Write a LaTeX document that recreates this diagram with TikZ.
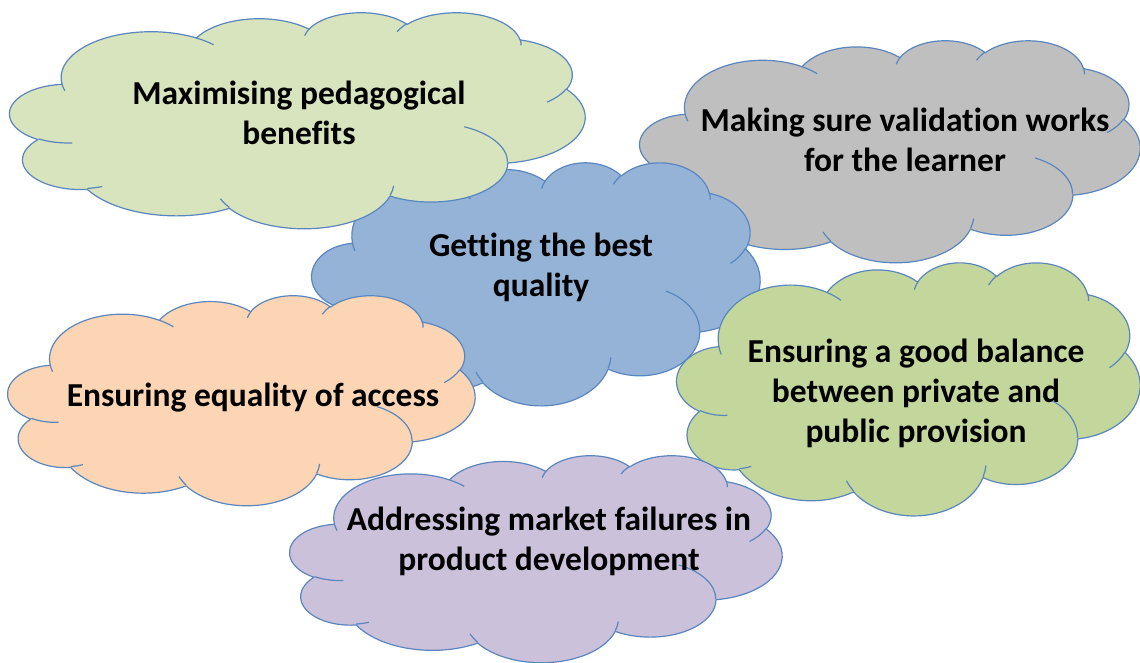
\documentclass[tikz,border=0pt]{standalone}
\usepackage{fontspec}
\setmainfont{Carlito}[Ligatures=NoCommon]
\definecolor{cloudblue}{HTML}{5A86C0}
\definecolor{cgreenA}{HTML}{D7E4BD}
\definecolor{cgray}{HTML}{BFBFBF}
\definecolor{cblue}{HTML}{95B3D7}
\definecolor{corange}{HTML}{FCD5B5}
\definecolor{cgreenB}{HTML}{C3D69B}
\definecolor{cpurple}{HTML}{CCC1DA}
\tikzset{
  cloudline/.style={draw=cloudblue, line width=1.2pt, line join=round},
  cloudtext/.style={font=\fontsize{33.5}{40}\selectfont\bfseries, align=center, text=black, inner sep=0pt}
}
% precompute parametric angles of the cloud arcs (DrawingML angles are visual)
\newcommand\clprep[5]{%
  \pgfmathsetmacro\clTmpS{atan2(#2*sin(#4),#3*cos(#4))}%
  \pgfmathsetmacro\clTmpE{atan2(#2*sin(#4+#5),#3*cos(#4+#5))}%
  \pgfmathsetmacro\clTmpD{mod(\clTmpE-\clTmpS+720,360)}%
  \expandafter\xdef\csname clS#1\endcsname{\clTmpS}%
  \expandafter\xdef\csname clD#1\endcsname{\clTmpD}%
  \expandafter\xdef\csname clX#1\endcsname{#2}%
  \expandafter\xdef\csname clY#1\endcsname{#3}%
}
\newcommand\clarc[1]{arc[x radius=\csname clX#1\endcsname, y radius=\csname clY#1\endcsname, start angle=\csname clS#1\endcsname, delta angle=\csname clD#1\endcsname]}
\clprep{a}{67.53}{91.90}{-190.4875}{123.7805}
\clprep{b}{53.33}{72.67}{-144.1024}{89.9452}
\clprep{c}{43.65}{59.45}{-145.8079}{99.7230}
\clprep{d}{48.57}{65.95}{-130.9861}{117.2417}
\clprep{e}{53.33}{72.73}{-78.7089}{109.0269}
\clprep{f}{67.75}{92.20}{-46.2673}{130.2690}
\clprep{g}{57.85}{78.67}{0.6250}{114.0333}
\clprep{h}{67.52}{92.15}{22.4516}{115.1726}
\clprep{i}{77.20}{105.43}{66.2426}{75.7110}
\clprep{j}{43.60}{59.45}{-274.9421}{146.7356}
\clprep{k}{43.45}{59.45}{-246.8285}{152.5189}
\clprep{ia}{43.45}{59.45}{86.7420}{26.4295}
\clprep{ib}{43.60}{59.45}{73.6105}{11.4475}
\clprep{ic}{67.52}{92.15}{137.6242}{14.0811}
\clprep{id}{67.52}{92.15}{6.4533}{15.9984}
\clprep{ie}{57.85}{78.67}{-70.2924}{70.9174}
\clprep{if}{53.33}{72.73}{30.3180}{27.7515}
\clprep{ig}{48.57}{65.95}{-13.7443}{14.8549}
\clprep{ih}{48.57}{65.95}{-149.1815}{18.1954}
\clprep{ii}{43.65}{59.45}{-163.4943}{17.6864}
\clprep{ij}{67.53}{91.90}{-66.7070}{12.3194}
\clprep{ik}{67.53}{91.90}{157.6544}{11.8582}
% #1 left, #2 top, #3 width, #4 height (pixels, y downwards), #5 fill
\newcommand\drawcloud[5]{%
  \begin{scope}[shift={(#1pt,-#2pt)}, x={(#3pt/432,0pt)}, y={(0pt,-#4pt/432)}]
    \filldraw[cloudline, fill=#5] (39.00,143.70)
      \clarc{a} \clarc{b} \clarc{c} \clarc{d} \clarc{e} \clarc{f}
      \clarc{g} \clarc{h} \clarc{i} \clarc{j} \clarc{k} -- cycle;
    \draw[cloudline]
      (46.93,261.77) \clarc{ia}
      (69.28,348.99) \clarc{ib}
      (164.78,390.90) \clarc{ic}
      (288.27,347.51) \clarc{id}
      (341.29,229.54) \clarc{ie}
      (417.98,153.54) \clarc{if}
      (383.24,54.26) \clarc{ig}
      (290.78,39.52) \clarc{ih}
      (221.41,47.20) \clarc{ii}
      (140.00,51.92) \clarc{ij}
      (41.27,157.89) \clarc{ik};
  \end{scope}}
\begin{document}
\begin{tikzpicture}
  \useasboundingbox (0pt,0pt) rectangle (1140pt,-662pt);
  \drawcloud{640}{40}{500}{222}{cgray}
  \drawcloud{312}{162}{448}{243}{cblue}
  \drawcloud{10}{12}{575}{216}{cgreenA}
  \drawcloud{677}{262}{463}{253}{cgreenB}
  \drawcloud{290}{455}{492}{207}{cpurple}
  \drawcloud{8}{295}{467}{210}{corange}
  \node[cloudtext] (t1) at (299pt,-113pt) {Maximising pedagogical\\benefits};
  \node[cloudtext] (t2) at (905pt,-140pt) {Making sure validation works\\for the learner};
  \node[cloudtext] (t3) at (541pt,-267pt) {Getting the best\\quality};
  \node[cloudtext] (t4) at (253pt,-398pt) {Ensuring equality of access};
  \node[cloudtext] (t5) at (916pt,-393pt) {Ensuring a good balance\\between private and\\public provision};
  \node[cloudtext] (t6) at (549pt,-541pt) {Addressing market failures in\\product development};
\end{tikzpicture}
\end{document}
